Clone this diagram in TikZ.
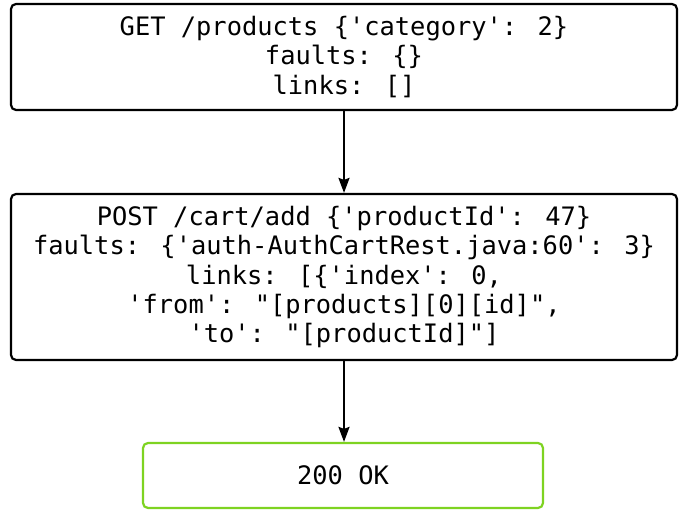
\documentclass[tikz,border=0pt]{standalone}
\usepackage{fontspec}
\newfontfamily\codefont{DejaVu Sans Mono}
\usetikzlibrary{arrows.meta}
\definecolor{okgreen}{RGB}{126,211,33}
\tikzset{
  stepbox/.style={draw=black, line width=2.2pt, rounded corners=5pt, align=center,
    inner sep=0pt, font=\codefont\fontsize{25.4}{29.2}\selectfont},
  flow/.style={draw=black, line width=2.2pt, -{Stealth[length=15pt,width=11pt,inset=2pt]}}
}
\begin{document}
\begin{tikzpicture}[x=1pt, y=-1pt]
  \useasboundingbox (0,0) rectangle (683,510);
  \node[stepbox, minimum width=666pt, minimum height=106pt] (get) at (344,57)
    {GET /products \{'category': 2\}\\faults: \{\}\\links: []};
  \node[stepbox, minimum width=666pt, minimum height=166pt] (post) at (344,277)
    {POST /cart/add \{'productId': 47\}\\faults: \{'auth-AuthCartRest.java:60': 3\}\\links: [\{'index': 0,\\'from': "[products][0][id]",\\'to': "[productId]"]};
  \node[stepbox, draw=okgreen, minimum width=400pt, minimum height=65pt] (ok) at (343,475.5)
    {200 OK};
  \draw[flow] (get) -- (post);
  \draw[flow] (post) -- (ok.north -| post.south);
\end{tikzpicture}
\end{document}
